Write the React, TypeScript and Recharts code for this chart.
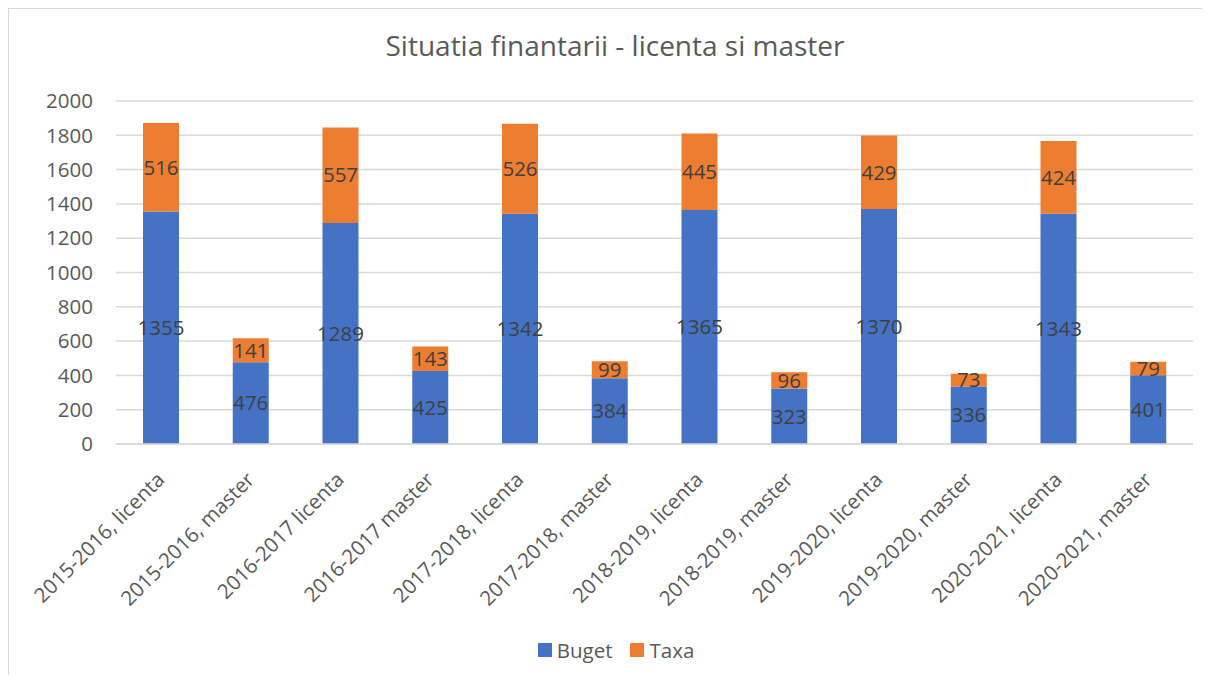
import { Bar, BarChart, CartesianGrid, LabelList, Legend, XAxis, YAxis } from 'recharts';

const categories = [
  '2015-2016, licenta',
  '2015-2016, master',
  '2016-2017 licenta',
  '2016-2017 master',
  '2017-2018, licenta',
  '2017-2018, master',
  '2018-2019, licenta',
  '2018-2019, master',
  '2019-2020, licenta',
  '2019-2020, master',
  '2020-2021, licenta',
  '2020-2021, master',
];
const buget = [1355, 476, 1289, 425, 1342, 384, 1365, 323, 1370, 336, 1343, 401];
const taxa = [516, 141, 557, 143, 526, 99, 445, 96, 429, 73, 424, 79];
const yTicks = [0, 200, 400, 600, 800, 1000, 1200, 1400, 1600, 1800, 2000];

const data = categories.map((name, i) => ({ name, buget: buget[i], taxa: taxa[i] }));

const font = '"Open Sans", sans-serif';
const blue = '#4472C4';
const orange = '#ED7D31';
const textGray = '#595959';
const fs = 20.5;

const W = 1193;
const H = 666;

function XTick({ x, y, payload }: any) {
  const bx = x + 5;
  const by = y + 37;
  return (
    <text
      x={bx}
      y={by}
      transform={`rotate(-45, ${bx}, ${by})`}
      textAnchor="end"
      fill={textGray}
      fontSize={fs}
      fontFamily={font}
    >
      {payload.value}
    </text>
  );
}

function LegendContent() {
  const items = [
    { label: 'Buget', color: blue },
    { label: 'Taxa', color: orange },
  ];
  return (
    <div
      style={{
        display: 'flex',
        justifyContent: 'center',
        alignItems: 'center',
        paddingLeft: 30,
        fontFamily: font,
        fontSize: fs,
        color: textGray,
        height: 30,
      }}
    >
      {items.map((it, i) => (
        <div key={it.label} style={{ display: 'flex', alignItems: 'center', marginLeft: i ? 18 : 0 }}>
          <span style={{ width: 14, height: 14, background: it.color, display: 'inline-block', marginRight: 5 }} />
          <span>{it.label}</span>
        </div>
      ))}
    </div>
  );
}

export default function App() {
  return (
    <div
      style={{
        position: 'relative',
        width: W,
        height: H,
        borderLeft: '1px solid #d9d9d9',
        borderTop: '1px solid #d9d9d9',
        background: '#fff',
      }}
    >
      <div
        style={{
          position: 'absolute',
          top: 17,
          left: 606 - 400,
          width: 800,
          textAlign: 'center',
          fontFamily: font,
          fontSize: 28,
          color: textGray,
        }}
      >
        Situatia finantarii - licenta si master
      </div>
      <BarChart
        width={W}
        height={H}
        data={data}
        barSize={36}
        margin={{ top: 92, right: 9, left: 0, bottom: 10 }}
      >
        <CartesianGrid vertical={false} stroke="#d9d9d9" strokeWidth={1.5} />
        <XAxis
          dataKey="name"
          interval={0}
          axisLine={{ stroke: '#d9d9d9', strokeWidth: 1.5 }}
          tickLine={false}
          tickSize={0}
          tickMargin={0}
          height={191}
          tick={<XTick />}
        />
        <YAxis
          domain={[0, 2000]}
          ticks={yTicks}
          width={107}
          axisLine={false}
          tickLine={false}
          tickSize={0}
          tickMargin={23}
          tick={{ fontSize: fs, fill: textGray, fontFamily: font }}
        />
        <Legend verticalAlign="bottom" content={<LegendContent />} />
        <Bar dataKey="buget" name="Buget" stackId="a" fill={blue} isAnimationActive={false}>
          <LabelList dataKey="buget" position="center" fill="#404040" fontSize={fs} fontFamily={font} />
        </Bar>
        <Bar dataKey="taxa" name="Taxa" stackId="a" fill={orange} isAnimationActive={false}>
          <LabelList dataKey="taxa" position="center" fill="#404040" fontSize={fs} fontFamily={font} />
        </Bar>
      </BarChart>
    </div>
  );
}
